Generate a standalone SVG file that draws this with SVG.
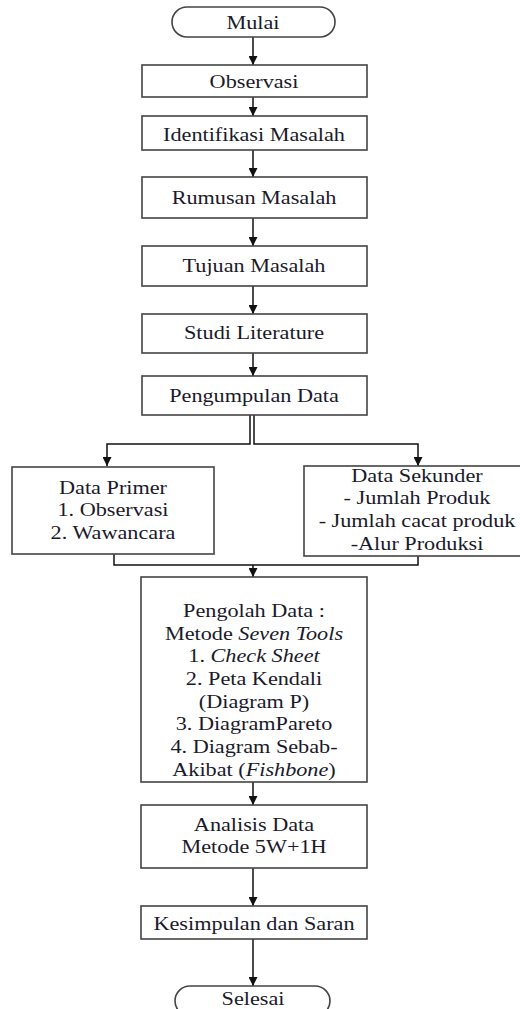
<svg xmlns="http://www.w3.org/2000/svg" width="520" height="1009" viewBox="0 0 520 1009">
<defs>
<marker id="ah" viewBox="0 0 10 10" refX="10" refY="5" markerWidth="9" markerHeight="9" markerUnits="userSpaceOnUse" orient="auto"><path d="M0,0 L10,5 L0,10 z" fill="#111"/></marker>
<style>
.box{fill:#fff;stroke:#444;stroke-width:1.6}
.t{font-family:"Liberation Serif","Times New Roman",serif;font-size:19.5px;fill:#1a1a2a;text-anchor:middle}
.c{fill:none;stroke:#111;stroke-width:1.5}
</style>
</defs>
<rect width="520" height="1009" fill="#fff"/>
<g id="connectors">
<line class="c" x1="253" y1="37" x2="253" y2="65" marker-end="url(#ah)"/>
<line class="c" x1="253" y1="97" x2="253" y2="116" marker-end="url(#ah)"/>
<line class="c" x1="253" y1="150" x2="253" y2="177" marker-end="url(#ah)"/>
<line class="c" x1="253" y1="218" x2="253" y2="246" marker-end="url(#ah)"/>
<line class="c" x1="253" y1="286" x2="253" y2="314" marker-end="url(#ah)"/>
<line class="c" x1="253" y1="353" x2="253" y2="376" marker-end="url(#ah)"/>
<polyline class="c" points="250,415 250,444 107,444 107,466" marker-end="url(#ah)"/>
<polyline class="c" points="254,415 254,444 418,444 418,466" marker-end="url(#ah)"/>
<polyline class="c" points="114,554 114,565 418,565 418,556"/>
<line class="c" x1="253" y1="565" x2="253" y2="577" marker-end="url(#ah)"/>
<line class="c" x1="253" y1="782" x2="253" y2="805" marker-end="url(#ah)"/>
<line class="c" x1="253" y1="868" x2="253" y2="906" marker-end="url(#ah)"/>
<line class="c" x1="253" y1="939" x2="253" y2="986" marker-end="url(#ah)"/>
</g>
<g id="mulai"><rect class="box" x="172" y="7" width="163" height="30" rx="15"/><g transform="translate(253 0) scale(1.14 1)"><text class="t" x="0" y="29">Mulai</text></g></g>
<g id="observasi"><rect class="box" x="142" y="65" width="225" height="32"/><g transform="translate(254 0) scale(1.14 1)"><text class="t" x="0" y="88">Observasi</text></g></g>
<g id="identifikasi"><rect class="box" x="142" y="116" width="225" height="34"/><g transform="translate(254 0) scale(1.14 1)"><text class="t" x="0" y="141">Identifikasi Masalah</text></g></g>
<g id="rumusan"><rect class="box" x="142" y="177" width="225" height="41"/><g transform="translate(254 0) scale(1.14 1)"><text class="t" x="0" y="204">Rumusan Masalah</text></g></g>
<g id="tujuan"><rect class="box" x="142" y="246" width="225" height="40"/><g transform="translate(254 0) scale(1.14 1)"><text class="t" x="0" y="272">Tujuan Masalah</text></g></g>
<g id="studi"><rect class="box" x="142" y="314" width="225" height="39"/><g transform="translate(254 0) scale(1.14 1)"><text class="t" x="0" y="339">Studi Literature</text></g></g>
<g id="pengumpulan"><rect class="box" x="142" y="376" width="225" height="39"/><g transform="translate(254 0) scale(1.14 1)"><text class="t" x="0" y="402">Pengumpulan Data</text></g></g>
<g id="primer"><rect class="box" x="12" y="467" width="202" height="87"/>
<g transform="translate(113 0) scale(1.14 1)">
<text class="t" x="0" y="494">Data Primer</text>
<text class="t" x="0" y="516">1. Observasi</text>
<text class="t" x="0" y="539">2. Wawancara</text></g></g>
<g id="sekunder"><rect class="box" x="304" y="466" width="230" height="90"/>
<g transform="translate(417 0) scale(1.14 1)">
<text class="t" x="0" y="482">Data Sekunder</text>
<text class="t" x="0" y="504">- Jumlah Produk</text>
<text class="t" x="0" y="527">- Jumlah cacat produk</text>
<text class="t" x="0" y="550">-Alur Produksi</text></g></g>
<g id="pengolah"><rect class="box" x="141" y="577" width="226" height="205"/>
<g transform="translate(254 0) scale(1.14 1)">
<text class="t" x="0" y="617">Pengolah Data :</text>
<text class="t" x="0" y="640">Metode <tspan font-style="italic">Seven Tools</tspan></text>
<text class="t" x="0" y="662">1. <tspan font-style="italic">Check Sheet</tspan></text>
<text class="t" x="0" y="685">2. Peta Kendali</text>
<text class="t" x="0" y="708">(Diagram P)</text>
<text class="t" x="0" y="730">3. DiagramPareto</text>
<text class="t" x="0" y="753">4. Diagram Sebab-</text>
<text class="t" x="0" y="776">Akibat (<tspan font-style="italic">Fishbone</tspan>)</text></g></g>
<g id="analisis"><rect class="box" x="141" y="805" width="226" height="63"/>
<g transform="translate(254 0) scale(1.14 1)">
<text class="t" x="0" y="831">Analisis Data</text>
<text class="t" x="0" y="853">Metode 5W+1H</text></g></g>
<g id="kesimpulan"><rect class="box" x="141" y="906" width="226" height="33"/><g transform="translate(254 0) scale(1.14 1)"><text class="t" x="0" y="930">Kesimpulan dan Saran</text></g></g>
<g id="selesai"><rect class="box" x="175" y="986" width="155" height="30" rx="15"/><g transform="translate(253 0) scale(1.14 1)"><text class="t" x="0" y="1005">Selesai</text></g></g>
</svg>
